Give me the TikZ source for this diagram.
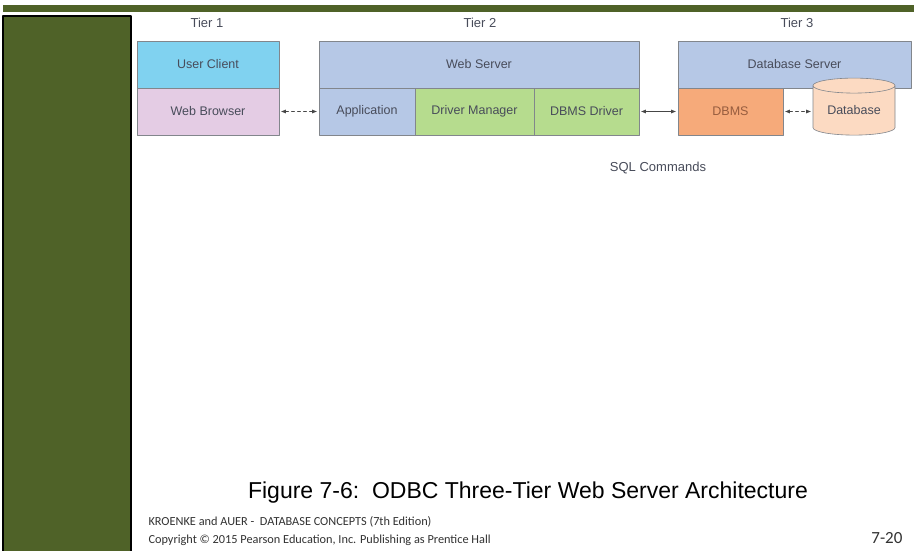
\documentclass[tikz,border=0pt]{standalone}
\usepackage{fontspec}
\setmainfont{Liberation Sans}
\newfontfamily\footfont{Carlito}
\usetikzlibrary{positioning, calc, shapes.geometric, arrows.meta}

\definecolor{slidegreen}{RGB}{79,98,40}
\definecolor{clientblue}{RGB}{128,210,240}
\definecolor{browserpink}{RGB}{228,204,228}
\definecolor{serverblue}{RGB}{182,200,230}
\definecolor{drivergreen}{RGB}{182,220,142}
\definecolor{dbmsorange}{RGB}{246,170,122}
\definecolor{dbpeach}{RGB}{252,218,194}
\definecolor{boxline}{RGB}{130,134,140}
\definecolor{boxtext}{RGB}{72,76,90}
\definecolor{linkcol}{RGB}{70,70,70}

\begin{document}
\begin{tikzpicture}[x=1pt,y=-1pt, line cap=round, line join=round,
  blk/.style={draw=boxline, line width=0.6pt, text=boxtext, minimum height=47, inner sep=0pt,
    font=\fontsize{12.5}{14}\selectfont},
  tier/.style={text=boxtext, font=\fontsize{13}{15}\selectfont},
  link/.style={{Latex[length=5pt,width=4pt]}-{Latex[length=5pt,width=4pt]}, draw=linkcol,
    line width=0.6pt, shorten <=1.5pt, shorten >=1.5pt}]

\useasboundingbox (0,0) rectangle (914,551);
\fill[white] (0,0) rectangle (914,551);

% slide frame
\fill[slidegreen] (3,5) rectangle (914,12);
\filldraw[fill=slidegreen, draw=black, line width=2.4pt] (3,16) rectangle (131,556);

% tiers
\node[tier] (tier1) at (207,23) {Tier 1};
\node[tier] (tier2) at (480,23) {Tier 2};
\node[tier] (tier3) at (797,23) {Tier 3};

\node[blk, fill=clientblue,  minimum width=142] (client)  at (208,64.5)  {User Client};
\node[blk, fill=browserpink, minimum width=142] (browser) at (208,111.5) {Web Browser};

\node[blk, fill=serverblue,  minimum width=320] (webserver) at (479,64.5)   {Web Server};
\node[blk, fill=serverblue,  minimum width=96]  (app)       at (367,111.5)  {Application};
\node[blk, fill=drivergreen, minimum width=119] (drvmgr)    at (474.5,111.5){Driver Manager};
\node[blk, fill=drivergreen, minimum width=105] (dbmsdrv)   at (586.5,111.5){DBMS Driver};

\node[blk, fill=serverblue,  minimum width=233] (dbserver) at (794.5,64.5)  {Database Server};
\node[blk, fill=dbmsorange,  minimum width=105, text={rgb,255:red,150;green,92;blue,62}]
  (dbms) at (730.5,111.5) {DBMS};

\node[cylinder, shape border rotate=90, draw=boxline, line width=0.6pt, fill=dbpeach,
  aspect=0.28, minimum width=82, minimum height=57, inner sep=0pt, text=boxtext,
  font=\fontsize{12.5}{14}\selectfont] (database) at (854,110.5) {Database};

\draw[link, dashed] (browser) -- (app);
\draw[link] (dbmsdrv) -- (dbms);
\draw[link, dashed] (dbms) -- (database.west |- dbms);

\node[tier] (sqlcmd) at (658,168) {SQL Commands};

% caption and footer
\node[font=\fontsize{23}{26}\selectfont] (caption) at (528,493)
  {Figure 7-6:\ \ ODBC Three-Tier Web Server Architecture};
\node[anchor=west, align=left, text={rgb,255:red,50;green,50;blue,50},
  font=\footfont\fontsize{12.3}{18}\selectfont] (credit) at (145,531)
  {KROENKE and AUER -\ \ DATABASE CONCEPTS (7th Edition)\\
   Copyright \textcopyright{} 2015 Pearson Education, Inc. Publishing as Prentice Hall};
\node[anchor=east, text={rgb,255:red,50;green,50;blue,50},
  font=\footfont\fontsize{17}{19}\selectfont] (pageno) at (906,538) {7-20};

\end{tikzpicture}
\end{document}
